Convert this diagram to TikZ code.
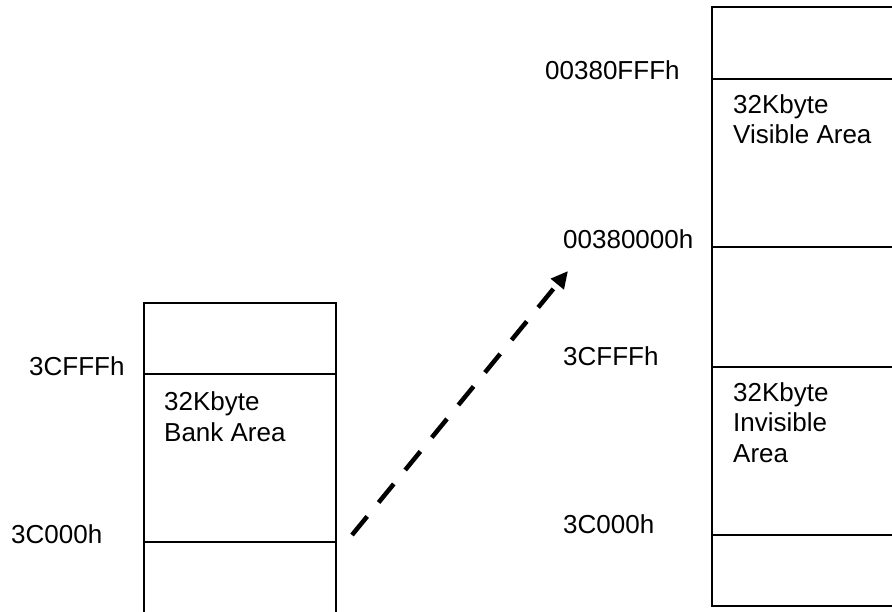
\documentclass[tikz,border=0pt]{standalone}
\usepackage{fontspec}
\setmainfont{Liberation Sans}
\usetikzlibrary{arrows.meta}
\begin{document}
\begin{tikzpicture}[x=1pt,y=-1pt,
  lbl/.style={anchor=base west,inner sep=0pt,font=\fontsize{26}{30}\selectfont},
  memline/.style={line width=1.8pt,line cap=rect},
  maparrow/.style={line width=4.5pt,dash pattern=on 24pt off 18pt,
    -{Triangle[length=17pt,width=16pt]}}]
\useasboundingbox (0,0) rectangle (892,611);
\begin{scope}
\clip (0,0) rectangle (892,611);
% left memory column
\draw[memline] (144,620) -- (144,303) -- (336,303) -- (336,620);
\draw[memline] (144,374) -- (336,374);
\draw[memline] (144,542) -- (336,542);
% right memory column
\draw[memline] (900,7) -- (712,7) -- (712,606) -- (900,606);
\draw[memline] (712,79) -- (900,79);
\draw[memline] (712,247) -- (900,247);
\draw[memline] (712,367) -- (900,367);
\draw[memline] (712,535) -- (900,535);
\end{scope}
% left labels
\node[lbl] (lfff) at (29,375) {3CFFFh};
\node[lbl] (l000) at (11,543) {3C000h};
\node[lbl] (lb1) at (164,410) {32Kbyte};
\node[lbl] (lb2) at (164,441) {Bank Area};
% right labels
\node[lbl] (rvf) at (545,79) {00380FFFh};
\node[lbl] (rv0) at (563,248) {00380000h};
\node[lbl] (rv1) at (733,113) {32Kbyte};
\node[lbl] (rv2) at (733,143) {Visible Area};
\node[lbl] (rfff) at (563,365) {3CFFFh};
\node[lbl] (ri1) at (733,401) {32Kbyte};
\node[lbl] (ri2) at (733,431) {Invisible};
\node[lbl] (ri3) at (733,462) {Area};
\node[lbl] (r000) at (563,533) {3C000h};
% mapping arrow
\coordinate (astart) at (352,535);
\coordinate (aend) at (568,271);
\draw[maparrow] (astart) -- (aend);
\end{tikzpicture}
\end{document}
